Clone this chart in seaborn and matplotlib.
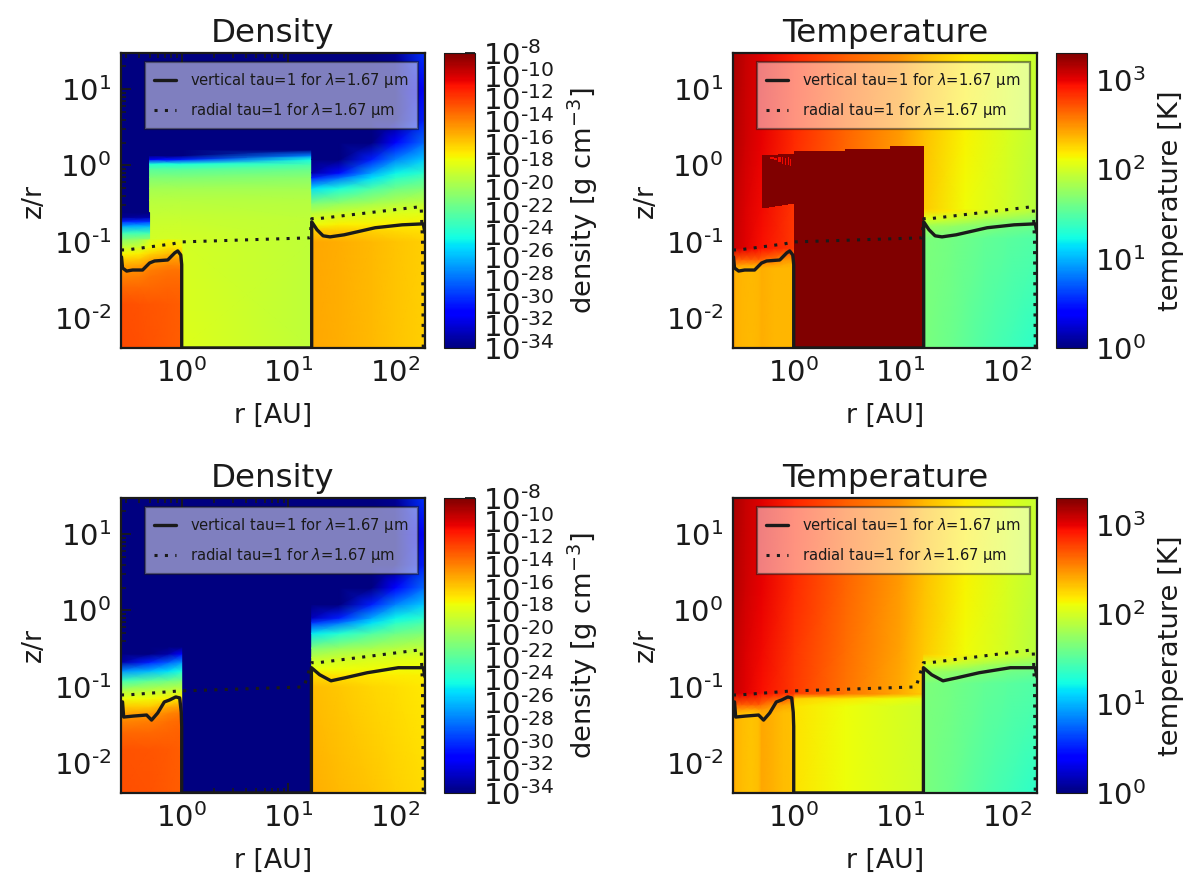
import numpy as np
import matplotlib
matplotlib.use('Agg')
import matplotlib.pyplot as plt
from matplotlib.colors import LogNorm
from matplotlib.cm import ScalarMappable
from matplotlib.ticker import LogLocator, NullFormatter, FuncFormatter
import seaborn as sns

# --- tau=1 surfaces ---
r_vert_a = [0.273, 0.279, 0.305, 0.347, 0.43, 0.50, 0.557, 0.74, 0.86, 0.917, 0.98, 1.0, 1.0,
            16.5, 16.5, 18.5, 21.1, 24.5, 33.2, 64.9, 116, 183, 190]
z_vert_a = [0.0628, 0.045, 0.041, 0.0423, 0.0423, 0.0523, 0.0556, 0.0573, 0.071, 0.0754, 0.0667, 0.05, 0.004,
            0.004, 0.182, 0.143, 0.119, 0.1153, 0.1227, 0.152, 0.166, 0.171, 0.13]
r_vert_b = [0.279, 0.286, 0.354, 0.469, 0.522, 0.596, 0.687, 0.771, 0.879, 0.957, 0.99, 1.0, 1.0,
            16.4, 16.4, 19.6, 25, 33.5, 54.6, 107, 183, 190]
z_vert_b = [0.063, 0.0398, 0.041, 0.0423, 0.0363, 0.045, 0.0628, 0.0667, 0.0731, 0.071, 0.046, 0.03, 0.004,
            0.004, 0.177, 0.143, 0.119, 0.13, 0.152, 0.177, 0.177, 0.134]
r_rad_a = [0.27, 0.305, 0.82, 1.0, 15.9, 16.5, 18.9, 175, 180, 183]
z_rad_a = [0.0777, 0.0777, 0.0933, 0.099, 0.112, 0.2, 0.2, 0.288, 0.1, 0.004]
r_rad_b = [0.27, 0.311, 0.957, 3.9, 14, 16.4, 18.9, 175, 180, 183]
z_rad_b = [0.0777, 0.0777, 0.0877, 0.0933, 0.099, 0.206, 0.206, 0.305, 0.1, 0.004]

# --- log10 density tables, one per disk zone ---
r_gap = [0.5, 1.0, 16.5]
z_gap = [0.004, 0.1, 0.2, 0.35, 0.5, 0.7, 0.9, 1.05, 1.2, 1.35, 1.6]
rho_gap = [[-18.0, -17.9, -18.9],
           [-18.2, -18.2, -18.9],
           [-18.6, -18.6, -18.9],
           [-19.1, -19.1, -19.2],
           [-19.7, -19.7, -19.7],
           [-20.8, -20.8, -20.5],
           [-22.2, -22.2, -21.7],
           [-24.0, -24.0, -22.8],
           [-31.0, -30.0, -24.2],
           [-34.0, -34.0, -27.5],
           [-34.0, -34.0, -34.0]]

r_inner = [0.27, 0.40, 0.5, 0.75, 1.0]
z_inner = [0.004, 0.015, 0.025, 0.035, 0.042, 0.05, 0.06, 0.07, 0.085, 0.105]
rho_inner = [[-12.4, -12.5, -12.6, -12.8, -12.9],
             [-12.5, -12.6, -12.7, -12.8, -12.9],
             [-13.2, -13.2, -13.2, -13.1, -13.1],
             [-13.9, -13.8, -13.5, -13.3, -13.3],
             [-14.4, -14.2, -13.8, -13.5, -13.5],
             [-15.2, -15.0, -14.5, -14.0, -14.0],
             [-16.2, -16.0, -15.3, -14.8, -14.8],
             [-17.2, -17.0, -16.3, -15.6, -15.8],
             [-18.8, -18.4, -17.4, -16.6, -17.0],
             [-20.5, -20.0, -18.2, -17.2, -17.8]]

r_band = [0.27, 0.5]
z_band = [0.105, 0.13, 0.16, 0.185, 0.21, 0.24]
rho_band = [[-20.5, -20.0],
            [-23.0, -22.8],
            [-26.5, -26.0],
            [-30.0, -29.5],
            [-33.5, -33.0],
            [-34.0, -34.0]]

r_inner_b = [0.27, 0.5, 0.75, 1.0]
z_inner_b = [0.004, 0.015, 0.025, 0.035, 0.045, 0.055, 0.07, 0.09, 0.12, 0.16, 0.21, 0.27, 0.33]
rho_inner_b = [[-12.5, -12.6, -12.8, -12.9],
               [-12.6, -12.7, -12.8, -12.9],
               [-13.2, -13.2, -13.1, -13.0],
               [-14.0, -13.8, -13.4, -13.2],
               [-15.0, -14.8, -14.0, -13.7],
               [-16.0, -16.0, -15.2, -14.8],
               [-17.5, -17.3, -17.0, -16.8],
               [-19.5, -19.0, -18.8, -18.6],
               [-23.0, -22.0, -21.5, -21.0],
               [-27.0, -26.0, -25.0, -24.0],
               [-33.0, -30.0, -28.5, -27.0],
               [-34.0, -34.0, -33.0, -31.0],
               [-34.0, -34.0, -34.0, -34.0]]

r_outer = [16.5, 30, 60, 100, 190]
z_outer = [0.004, 0.1, 0.14, 0.17, 0.24, 0.32, 0.5, 0.69, 0.8, 1.2, 2, 4, 10, 30]
rho_outer = [[-15.0, -15.2, -15.5, -15.8, -16.1],
             [-15.0, -15.2, -15.5, -15.8, -16.1],
             [-16.0, -16.0, -16.2, -16.4, -16.6],
             [-17.5, -17.0, -17.0, -17.0, -17.0],
             [-19.0, -18.5, -18.2, -18.0, -17.8],
             [-21.0, -20.3, -19.7, -19.2, -18.8],
             [-25.0, -24.0, -22.5, -21.5, -20.8],
             [-30.0, -28.0, -25.0, -23.5, -22.5],
             [-33.0, -30.5, -26.5, -24.5, -23.5],
             [-34.0, -34.0, -30.0, -27.5, -25.5],
             [-34.0, -34.0, -34.0, -31.0, -28.0],
             [-34.0, -34.0, -34.0, -34.0, -30.0],
             [-34.0, -34.0, -34.0, -34.0, -31.0],
             [-34.0, -34.0, -34.0, -33.5, -29.5]]
rho_outer_b = [[-15.2, -15.5, -15.8, -16.1, -16.4],
               [-15.6, -15.9, -16.3, -16.5, -16.8],
               [-16.4, -16.6, -16.8, -16.9, -17.0],
               [-17.5, -17.4, -17.3, -17.3, -17.3],
               [-19.0, -18.5, -18.2, -18.0, -17.8],
               [-20.8, -20.1, -19.6, -19.2, -18.8],
               [-24.8, -23.8, -22.4, -21.5, -20.8],
               [-29.5, -27.8, -25.0, -23.5, -22.5],
               [-32.5, -30.0, -26.5, -24.5, -23.5],
               [-34.0, -34.0, -30.0, -27.5, -25.5],
               [-34.0, -34.0, -34.0, -31.0, -28.0],
               [-34.0, -34.0, -34.0, -34.0, -30.0],
               [-34.0, -34.0, -34.0, -34.0, -31.0],
               [-34.0, -34.0, -34.0, -33.5, -29.5]]

# --- log10 temperature tables ---
r_upper = [0.27, 0.35, 0.5, 1, 3, 10, 16.5, 40, 100, 190]
z_upper = [0.004, 0.08, 0.3, 2, 30]
T_upper = [[3.10, 3.02, 2.95, 2.80, 2.60, 2.41, 2.28, 2.10, 1.97, 1.87],
           [3.10, 3.02, 2.95, 2.80, 2.60, 2.41, 2.28, 2.10, 1.97, 1.87],
           [3.12, 3.04, 2.97, 2.82, 2.62, 2.43, 2.30, 2.12, 1.99, 1.89],
           [3.15, 3.07, 3.00, 2.85, 2.65, 2.46, 2.33, 2.15, 2.02, 1.92],
           [3.18, 3.10, 3.03, 2.88, 2.68, 2.49, 2.36, 2.18, 2.05, 1.95]]

r_gap_T = [1, 3, 8, 16.5]
z_gap_T = [0.004, 0.055, 0.07, 0.08]
T_gap = [[2.21, 2.11, 2.03, 1.98],
         [2.21, 2.11, 2.03, 1.98],
         [2.28, 2.20, 2.12, 2.07],
         [2.78, 2.60, 2.45, 2.30]]

r_inner_T = [0.27, 0.29, 0.33, 0.4, 0.47, 0.5, 0.65, 0.8, 1.0]
z_inner_T = [0.004, 0.045, 0.05, 0.058, 0.08]
T_inner = [[2.44, 2.37, 2.34, 2.31, 2.34, 2.42, 2.38, 2.34, 2.33],
           [2.44, 2.37, 2.34, 2.31, 2.34, 2.42, 2.38, 2.34, 2.33],
           [2.52, 2.47, 2.45, 2.42, 2.44, 2.47, 2.42, 2.37, 2.35],
           [2.67, 2.67, 2.67, 2.67, 2.67, 2.62, 2.50, 2.44, 2.40],
           [3.10, 3.05, 3.00, 2.97, 2.95, 2.93, 2.88, 2.83, 2.80]]
T_inner_hot = [[2.44, 2.38, 2.36, 2.35, 2.36, 2.39, 2.37, 2.36, 2.36],
               [2.44, 2.38, 2.36, 2.35, 2.36, 2.39, 2.37, 2.36, 2.36],
               [2.52, 2.49, 2.47, 2.45, 2.46, 2.47, 2.44, 2.40, 2.38],
               [2.67, 2.67, 2.67, 2.67, 2.67, 2.65, 2.58, 2.50, 2.45],
               [3.10, 3.05, 3.00, 2.97, 2.95, 2.93, 2.88, 2.83, 2.80]]

r_outer_T = [16.5, 30, 60, 100, 190]
z_outer_T = [0.004, 0.11, 0.16, 0.2, 0.26]
T_outer = [[1.65, 1.58, 1.48, 1.41, 1.33],
           [1.66, 1.62, 1.56, 1.52, 1.47],
           [1.80, 1.75, 1.68, 1.62, 1.58],
           [2.05, 1.98, 1.85, 1.78, 1.72],
           [2.28, 2.19, 2.06, 1.99, 1.89]]

# saturated block in the gap of the upper temperature panel
hot_r = [1, 3, 8, 16.5]
hot_ztop = [1.53, 1.63, 1.78]
hot_slab_r = [0.5, 1.0]
hot_slab_zlow = [0.279, 0.325]
hot_slab_ztop = [1.315, 1.40]
# cooler flecks along the top of the slab
fleck_r0 = [0.60, 0.66, 0.72, 0.78, 0.83, 0.88, 0.93]
fleck_r1 = [0.66, 0.70, 0.76, 0.80, 0.85, 0.90, 0.95]
fleck_z0 = [1.22, 1.18, 1.12, 1.05, 1.02, 1.00, 0.98]
fleck_z1 = [1.30, 1.24, 1.28, 1.30, 1.25, 1.30, 1.20]
fleck_T = 10**2.97

density_ticks = [10.0**e for e in range(-34, -7, 2)]
temperature_ticks = [1, 10, 100, 1000]
label_vert = 'vertical tau=1 for $\\lambda$=1.67 µm'
label_rad = 'radial tau=1 for $\\lambda$=1.67 µm'

sns.set_theme(style='ticks')
plt.rcParams['font.family'] = ['DejaVu Sans']
plt.rcParams['axes.linewidth'] = 1.6
plt.rcParams['axes.edgecolor'] = 'k'
plt.rcParams['text.color'] = 'k'
plt.rcParams['axes.labelcolor'] = 'k'
plt.rcParams['xtick.color'] = 'k'
plt.rcParams['ytick.color'] = 'k'

W, H = 1200, 892
rho_norm = LogNorm(1e-34, 1e-8)
T_norm = LogNorm(1, 2000)
fig = plt.figure(figsize=(W / 100, H / 100), dpi=100)


def power_label(v, pos):
    # short hyphen in the exponent, as in the original tick labels
    e = int(round(np.log10(v)))
    sign = '\\text{-}' if e < 0 else ''
    return f'$\\mathdefault{{10^{{{sign}{abs(e)}}}}}$'


def field(ax, r, z, values, norm):
    ax.pcolormesh(r, z, 10.0**np.array(values), shading='gouraud', cmap='jet', norm=norm)


def panel(x0, y0):
    ax = fig.add_axes([x0 / W, 1 - (y0 + 295) / H, 304 / W, 295 / H])
    ax.set_xscale('log')
    ax.set_yscale('log')
    ax.set_facecolor(plt.get_cmap('jet')(0.0))
    return ax


def finish(ax, y0, cx0, norm, title, cblabel, cbticks, rv, zv, rr, zr, cblabel_x):
    sns.lineplot(x=rv, y=zv, ax=ax, sort=False, estimator=None, errorbar=None, color='k', lw=2.4,
                 label=label_vert, zorder=5)
    sns.lineplot(x=rr, y=zr, ax=ax, sort=False, estimator=None, errorbar=None, color='k', lw=2.2,
                 linestyle=(0, (1, 2.4)), label=label_rad, zorder=5)
    ax.set_xlim(0.27, 190)
    ax.set_ylim(0.004, 30)
    ax.xaxis.set_major_locator(LogLocator(10))
    ax.xaxis.set_minor_locator(LogLocator(10, subs=range(2, 10), numticks=20))
    ax.yaxis.set_major_locator(LogLocator(10))
    ax.yaxis.set_minor_locator(LogLocator(10, subs=range(2, 10), numticks=20))
    ax.xaxis.set_major_formatter(FuncFormatter(power_label))
    ax.yaxis.set_major_formatter(FuncFormatter(power_label))
    ax.xaxis.set_minor_formatter(NullFormatter())
    ax.yaxis.set_minor_formatter(NullFormatter())
    ax.tick_params(which='major', direction='in', top=True, right=True, length=7.5, width=1.3,
                   labelsize=21, pad=7)
    ax.tick_params(which='minor', direction='in', top=True, right=True, length=3.8, width=1.2)
    ax.set_title(title, fontsize=23.4, pad=8)
    ax.set_xlabel('r [AU]', fontsize=19.3)
    ax.set_ylabel('z/r', fontsize=19.3)
    ax.xaxis.set_label_coords(0.5, -0.185)
    ax.yaxis.set_label_coords(-0.245, 0.5)
    leg = ax.legend(loc='upper left', bbox_to_anchor=(0.078, 0.97), borderaxespad=0, fontsize=10.6,
                    framealpha=0.5, fancybox=False, edgecolor='k', handlelength=1.5, handletextpad=1.0,
                    labelspacing=0.8, borderpad=0.6)
    leg.get_frame().set_linewidth(1.6)
    cax = fig.add_axes([cx0 / W, 1 - (y0 + 295) / H, 31 / W, 295 / H])
    cb = fig.colorbar(ScalarMappable(norm=norm, cmap='jet'), cax=cax, ticks=cbticks,
                      format=FuncFormatter(power_label))
    cax.minorticks_off()
    cax.tick_params(direction='in', right=True, length=7, width=1.3, labelsize=21, pad=6)
    cb.outline.set_linewidth(0.8)
    cb.set_label(cblabel, fontsize=19.7)
    cax.yaxis.set_label_coords(cblabel_x, 0.5)


# Density, upper
ax = panel(121, 53)
field(ax, r_gap, z_gap, rho_gap, rho_norm)
field(ax, r_band, z_band, rho_band, rho_norm)
field(ax, r_inner, z_inner, rho_inner, rho_norm)
field(ax, r_outer, z_outer, rho_outer, rho_norm)
finish(ax, 53, 444, rho_norm, 'Density', 'density [g cm$^{-3}$]', density_ticks,
       r_vert_a, z_vert_a, r_rad_a, z_rad_a, 3.93)

# Temperature, upper
ax = panel(733, 53)
field(ax, r_upper, z_upper, T_upper, T_norm)
field(ax, r_gap_T, z_gap_T, T_gap, T_norm)
field(ax, r_inner_T, z_inner_T, T_inner_hot, T_norm)
field(ax, r_outer_T, z_outer_T, T_outer, T_norm)
for i, ztop in enumerate(hot_ztop):
    ax.pcolormesh(hot_r[i:i + 2], [0.004, ztop], [[1e4]], shading='flat', cmap='jet', norm=T_norm)
ax.pcolormesh([hot_slab_r, hot_slab_r], [hot_slab_zlow, hot_slab_ztop], [[1e4]], shading='flat',
              cmap='jet', norm=T_norm)
for r0, r1, z0, z1 in zip(fleck_r0, fleck_r1, fleck_z0, fleck_z1):
    ax.pcolormesh([r0, r1], [z0, z1], [[fleck_T]], shading='flat', cmap='jet', norm=T_norm)
finish(ax, 53, 1056, T_norm, 'Temperature', 'temperature [K]', temperature_ticks,
       r_vert_a, z_vert_a, r_rad_a, z_rad_a, 3.29)

# Density, lower
ax = panel(121, 498)
field(ax, r_inner_b, z_inner_b, rho_inner_b, rho_norm)
field(ax, r_outer, z_outer, rho_outer_b, rho_norm)
finish(ax, 498, 444, rho_norm, 'Density', 'density [g cm$^{-3}$]', density_ticks,
       r_vert_b, z_vert_b, r_rad_b, z_rad_b, 3.93)

# Temperature, lower
ax = panel(733, 498)
field(ax, r_upper, z_upper, T_upper, T_norm)
field(ax, r_gap_T, z_gap_T, T_gap, T_norm)
field(ax, r_inner_T, z_inner_T, T_inner, T_norm)
field(ax, r_outer_T, z_outer_T, T_outer, T_norm)
finish(ax, 498, 1056, T_norm, 'Temperature', 'temperature [K]', temperature_ticks,
       r_vert_b, z_vert_b, r_rad_b, z_rad_b, 3.29)

fig.savefig('out.png', dpi=100)
